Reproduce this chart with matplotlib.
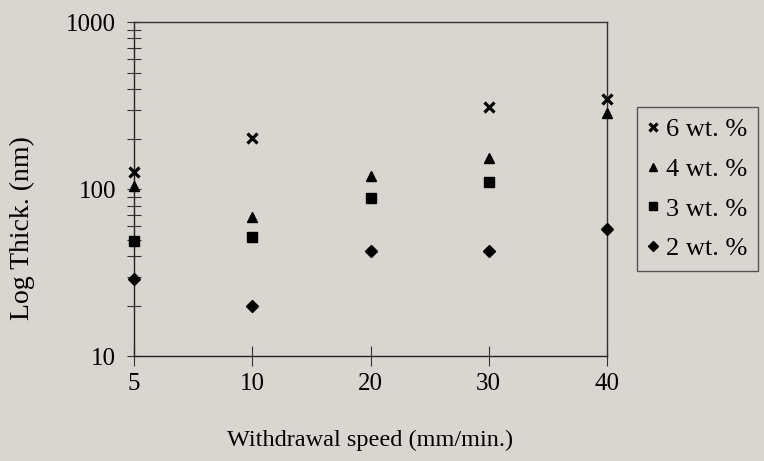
import numpy as np
import matplotlib
matplotlib.use("Agg")
import matplotlib.pyplot as plt
from matplotlib.ticker import LogLocator, NullFormatter, FixedLocator, FixedFormatter

speeds = ["5", "10", "20", "30", "40"]
wt6 = [127, 202, np.nan, 313, 347]
wt4 = [104, 68, 120, 153, 285]
wt3 = [49, 52, 89, 110, np.nan]
wt2 = [29, 20, 43, 43, 58]
ytick_labels = ["10", "100", "1000"]

bg = "#d9d6d1"
plt.rcParams['font.family'] = ['Liberation Serif', 'DejaVu Serif']
plt.rcParams['font.size'] = 18

fig = plt.figure(figsize=(7.64, 4.61), dpi=100, facecolor=bg)
ax = fig.add_axes([0.1754, 0.227, 0.6191, 0.7246])
ax.set_facecolor(bg)

x = np.arange(len(speeds))
kw = dict(linestyle="none", color="black", clip_on=False, zorder=5)
ax.plot(x, wt6, marker="x", markersize=7.5, markeredgewidth=2.3, label="6 wt. %", **kw)
ax.plot(x, wt4, marker="^", markersize=7.5, label="4 wt. %", **kw)
ax.plot(x, wt3, marker="s", markersize=6.5, label="3 wt. %", **kw)
ax.plot(x, wt2, marker="D", markersize=6, label="2 wt. %", **kw)

ax.set_yscale("log")
ax.set_ylim(10, 1000)
ax.set_xlim(0, 4)
ax.set_xticks(x)
ax.set_xticklabels(speeds)
ax.yaxis.set_major_locator(FixedLocator([10, 100, 1000]))
ax.yaxis.set_major_formatter(FixedFormatter(ytick_labels))
ax.yaxis.set_minor_locator(LogLocator(base=10, subs=np.arange(2, 10)))
ax.yaxis.set_minor_formatter(NullFormatter())

for s in ["left", "bottom"]:
    ax.spines[s].set_linewidth(1.0)
    ax.spines[s].set_color("#222222")
for s in ["top", "right"]:
    ax.spines[s].set_linewidth(1.0)
    ax.spines[s].set_color("#333333")

ax.tick_params(axis="y", which="both", direction="inout", length=10, width=0.8, color="#333333", pad=8)
ax.tick_params(axis="x", which="both", direction="inout", length=14, width=0.8, color="#333333", pad=5)
ax.tick_params(labelsize=18)

ax.set_xlabel("Withdrawal speed (mm/min.)", fontsize=17.5, labelpad=25)
ax.set_ylabel("Log Thick. (nm)", fontsize=20)
ax.yaxis.set_label_coords(-0.209, 0.384)

leg = fig.legend(loc="upper left", bbox_to_anchor=(0.834, 0.768), borderaxespad=0,
                 frameon=True, fancybox=False, edgecolor="#333333", facecolor=bg,
                 handlelength=0.4, handletextpad=0.3, labelspacing=0.62,
                 borderpad=0.4, markerscale=0.85, fontsize=19)
leg.get_frame().set_linewidth(1.0)

fig.savefig("out.png", dpi=100, facecolor=bg)
